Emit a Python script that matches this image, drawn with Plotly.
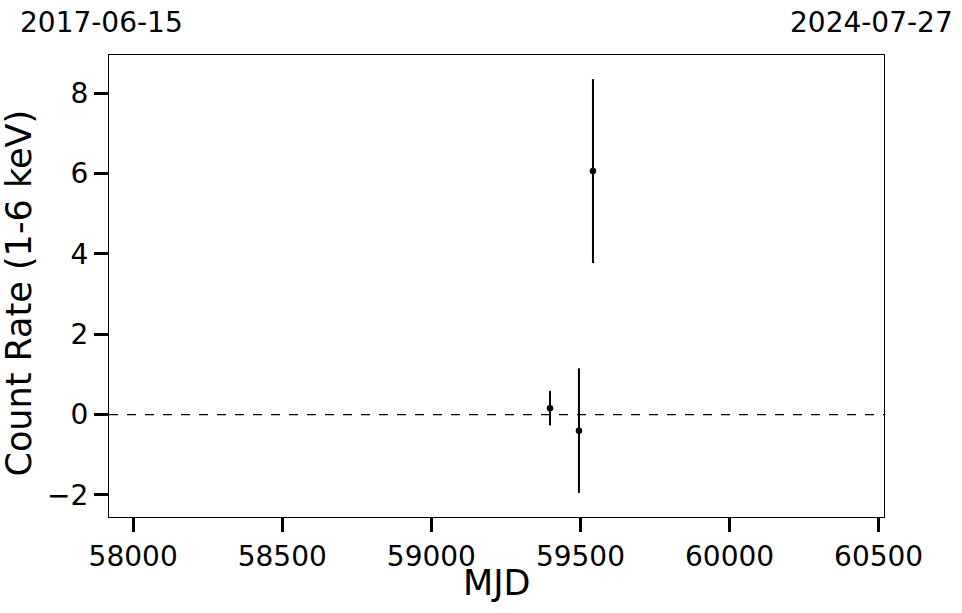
import plotly.graph_objects as go

mjd = [59398, 59495, 59542]
rate = [0.16, -0.40, 6.06]
rate_err = [0.43, 1.55, 2.29]
x_range = [57919, 60518]
y_range = [-2.55, 8.95]
x_ticks = [58000, 58500, 59000, 59500, 60000, 60500]
x_tick_text = ["58000", "58500", "59000", "59500", "60000", "60500"]
y_ticks = [-2, 0, 2, 4, 6, 8]
y_tick_text = ["\u22122", "0", "2", "4", "6", "8"]
date_start = "2017-06-15"
date_end = "2024-07-27"

FONT = "DejaVu Sans"

fig = go.Figure()
fig.add_trace(go.Scatter(
    x=mjd, y=rate, mode="markers",
    marker=dict(color="black", size=6.5),
    error_y=dict(type="data", array=rate_err, visible=True, color="black",
                 thickness=2, width=0),
    showlegend=False,
))
fig.add_shape(type="line", xref="paper", x0=0, x1=1, yref="y", y0=0, y1=0,
              line=dict(color="black", width=1.3, dash="dash"))

axis_common = dict(ticks="outside", ticklen=14, tickwidth=2.5, tickcolor="black",
                   showline=True, linecolor="black", linewidth=1, mirror=True,
                   showgrid=False, zeroline=False, automargin=False,
                   tickfont=dict(size=28, family=FONT, color="black"))

fig.update_layout(
    template="none",
    width=962, height=613,
    margin=dict(l=109, r=78, t=55, b=96),
    plot_bgcolor="white", paper_bgcolor="white",
    font=dict(family=FONT, color="black"),
    xaxis=dict(range=x_range, tickvals=x_ticks, ticktext=x_tick_text, **axis_common),
    yaxis=dict(range=y_range, tickvals=y_ticks, ticktext=y_tick_text, **axis_common),
    annotations=[
        dict(text="MJD", xref="paper", yref="paper", x=0.5, y=-0.1429,
             xanchor="center", yanchor="middle", showarrow=False,
             font=dict(size=35, family=FONT)),
        dict(text="Count Rate (1-6 keV)", xref="paper", yref="paper",
             x=-0.116, y=0.484, xanchor="center", yanchor="middle",
             textangle=-90, showarrow=False, font=dict(size=35, family=FONT)),
        dict(text=date_start, xref="paper", yref="paper", x=-0.1178, y=1.0714,
             xanchor="left", yanchor="middle", showarrow=False,
             font=dict(size=28, family=FONT)),
        dict(text=date_end, xref="paper", yref="paper", x=1.0912, y=1.0714,
             xanchor="right", yanchor="middle", showarrow=False,
             font=dict(size=28, family=FONT)),
    ],
)

fig.write_html("out.html", config={"displayModeBar": False},
               post_script="document.body.style.margin='0';document.body.style.padding='0';")
